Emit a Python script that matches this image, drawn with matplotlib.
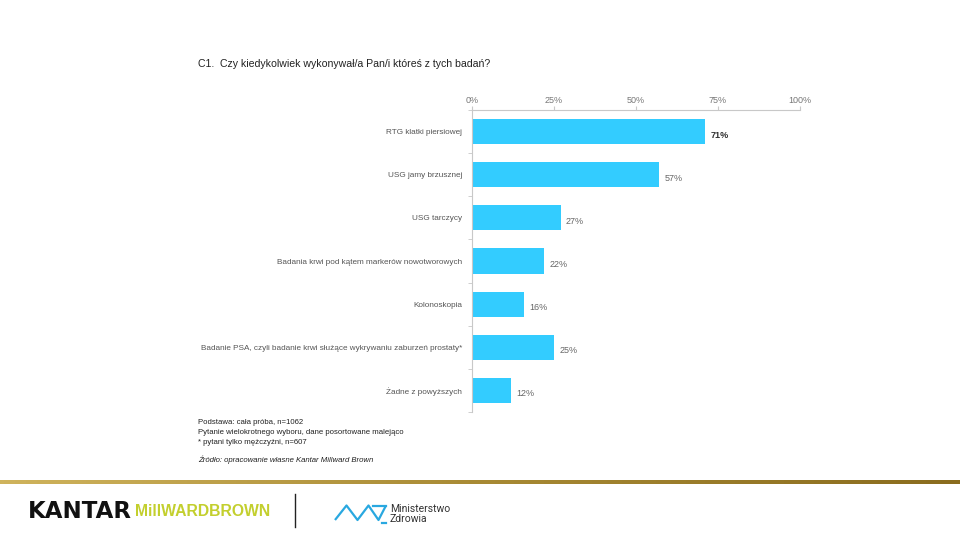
import matplotlib
matplotlib.use("Agg")
import matplotlib.pyplot as plt
import numpy as np

plt.rcParams['font.family'] = ['Liberation Sans', 'DejaVu Sans']

title = "C1.  Czy kiedykolwiek wykonywał/a Pan/i któreś z tych badań?"
categories = [
    "RTG klatki piersiowej",
    "USG jamy brzusznej",
    "USG tarczycy",
    "Badania krwi pod kątem markerów nowotworowych",
    "Kolonoskopia",
    "Badanie PSA, czyli badanie krwi służące wykrywaniu zaburzeń prostaty*",
    "Żadne z powyższych",
]
values = [71, 57, 27, 22, 16, 25, 12]
xticks = [0, 25, 50, 75, 100]
notes = [
    "Podstawa: cała próba, n=1062",
    "Pytanie wielokrotnego wyboru, dane posortowane malejąco",
    "* pytani tylko mężczyźni, n=607",
]
source = "Źródło: opracowanie własne Kantar Millward Brown"

W, H = 960, 540
fig = plt.figure(figsize=(9.6, 5.4), dpi=100)

# chart axes (pixel placement)
left, right, top, bottom = 472, 800, 110, 412
ax = fig.add_axes([left / W, 1 - bottom / H, (right - left) / W, (bottom - top) / H])
y = np.arange(len(categories))
ax.barh(y, values, height=0.58, color="#33ccff")
ax.set_xlim(0, 100)
ax.set_ylim(len(categories) - 0.5, -0.5)
for yi, v in zip(y, values):
    ax.text(v + 1.6, yi + 0.08, f"{v}%", va="center", ha="left", fontsize=6.5,
            color="#333333" if v == max(values) else "#666666",
            fontweight="bold" if v == max(values) else "normal")

ax.xaxis.tick_top()
ax.set_xticks(xticks)
ax.set_xticklabels([f"{t}%" for t in xticks], fontsize=6.5, color="#777777")
ax.tick_params(axis="x", length=3, color="#c8c8c8", pad=0.5)
ax.set_yticks(y)
ax.set_yticklabels(categories, fontsize=5.85, color="#555555")
ax.set_yticks(np.arange(len(categories) + 1) - 0.5, minor=True)
ax.tick_params(axis="y", which="major", length=0, pad=7)
ax.tick_params(axis="y", which="minor", length=3, color="#c8c8c8")
for s in ["right", "bottom"]:
    ax.spines[s].set_visible(False)
for s in ["top", "left"]:
    ax.spines[s].set_color("#c8c8c8")
    ax.spines[s].set_linewidth(0.8)

# overlay in pixel coordinates for text and footer
ov = fig.add_axes([0, 0, 1, 1])
ov.set_zorder(-1)

ov.text(198, 64, title, fontsize=7.6, color="#222222", va="center")
for i, n in enumerate(notes):
    ov.text(198, 423 + i * 9.5, n, fontsize=5.6, color="#222222", va="center")
ov.text(198, 460, source, fontsize=5.6, color="#222222", va="center", style="italic")

# gold gradient rule
grad = np.linspace(0, 1, 256)[None, :]
cm = matplotlib.colors.LinearSegmentedColormap.from_list("gold", ["#cfb35c", "#a88a34", "#8a6c1e"])
ov.imshow(grad, extent=[0, W, 484, 480], aspect="auto", cmap=cm, zorder=1)
ov.set_xlim(0, W)
ov.set_ylim(H, 0)
ov.axis("off")

# logos
ov.text(28, 512, "KANTAR", fontsize=16.5, fontweight="bold", color="#111111",
        va="center", family=["DejaVu Sans"])
ov.text(135, 512, "MillWARDBROWN", fontsize=11.3, fontweight="bold", color="#c3cf2e",
        va="center", family=["Liberation Sans"])
ov.plot([295, 295], [494, 527], color="#222222", lw=1)
zx = [335, 346.5, 357.5, 368.5, 378.5, 386]
zy = [520, 505.5, 520, 505.5, 520, 505.5]
ov.plot(zx, zy, color="#29a8e0", lw=1.6, solid_capstyle="butt")
ov.plot([372.5, 386], [505.5, 505.5], color="#29a8e0", lw=1.6)
ov.plot([381.5, 386], [522.5, 522.5], color="#29a8e0", lw=1.6)
ov.text(390, 509, "Ministerstwo", fontsize=7.5, color="#333333", va="center",
        family=["Roboto", "DejaVu Sans"])
ov.text(390, 519.5, "Zdrowia", fontsize=7.5, color="#333333", va="center",
        family=["Roboto", "DejaVu Sans"])

fig.savefig("out.png", dpi=100, facecolor="white")
